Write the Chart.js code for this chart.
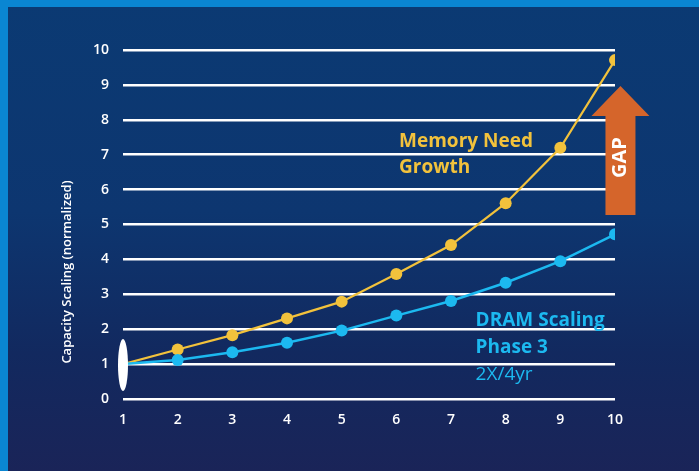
<!DOCTYPE html>
<html>
<head>
<meta charset="utf-8">
<script src="https://cdn.jsdelivr.net/npm/chart.js@4.4.0/dist/chart.umd.min.js"></script>
<style>
  html, body { margin: 0; padding: 0; overflow: hidden; background: #0d3269; }
  #frame {
    position: fixed; left: 0; top: 0; right: 0; bottom: 0;
    background: linear-gradient(180deg, #0b3a73 0%, #0d3670 45%, #12295f 75%, #1a2458 100%);
  }
  #topbar { position: fixed; left: 0; top: 0; right: 0; height: 7px; background: #0a86d2; }
  #leftbar { position: fixed; left: 0; top: 0; bottom: 0; width: 8px; background: #0a86d2; }
  #wrap { position: fixed; left: 0; top: 0; width: 699px; height: 471px; }
</style>
</head>
<body>
<div id="frame"></div>
<div id="topbar"></div>
<div id="leftbar"></div>
<div id="wrap"><canvas id="chart" width="699" height="471"></canvas></div>
<script>
// years (normalized)
const years = [1, 2, 3, 4, 5, 6, 7, 8, 9, 10];
// capacity scaling
const memoryNeed = [1, 1.42, 1.83, 2.31, 2.79, 3.58, 4.41, 5.61, 7.20, 9.71];
const dramScaling = [1, 1.12, 1.34, 1.61, 1.96, 2.39, 2.81, 3.33, 3.95, 4.72];
const yTicks = [0, 1, 2, 3, 4, 5, 6, 7, 8, 9, 10];

const YELLOW = '#f2c23c';
const BLUE = '#1cb9f0';
const ORANGE = '#d5652b';
const FONT = '"Open Sans", "DejaVu Sans", sans-serif';

const extras = {
  id: 'extras',
  afterDatasetsDraw(chart) {
    const { ctx } = chart;
    const x = chart.scales.x;
    const y = chart.scales.y;

    // white oval over the starting point
    ctx.save();
    ctx.fillStyle = '#ffffff';
    ctx.beginPath();
    ctx.ellipse(x.getPixelForValue(1), y.getPixelForValue(1) + 1, 5, 26, 0, 0, Math.PI * 2);
    ctx.fill();

    // GAP arrow
    const cx = x.getPixelForValue(10.1);
    const tip = y.getPixelForValue(8.97);
    const headBase = y.getPixelForValue(8.11);
    const bottom = y.getPixelForValue(5.27);
    ctx.fillStyle = ORANGE;
    ctx.beginPath();
    ctx.moveTo(cx, tip);
    ctx.lineTo(cx + 29, headBase);
    ctx.lineTo(cx + 15, headBase);
    ctx.lineTo(cx + 15, bottom);
    ctx.lineTo(cx - 15, bottom);
    ctx.lineTo(cx - 15, headBase);
    ctx.lineTo(cx - 29, headBase);
    ctx.closePath();
    ctx.fill();

    ctx.translate(cx, (headBase + bottom) / 2 - 8);
    ctx.rotate(-Math.PI / 2);
    ctx.fillStyle = '#ffffff';
    ctx.font = 'bold 20px ' + FONT;
    ctx.textAlign = 'center';
    ctx.textBaseline = 'middle';
    ctx.fillText('GAP', 0, 0);
    ctx.restore();

    // series labels
    ctx.save();
    ctx.textAlign = 'left';
    ctx.textBaseline = 'alphabetic';
    ctx.fillStyle = YELLOW;
    ctx.font = 'bold 19px ' + FONT;
    ctx.fillText('Memory Need', x.getPixelForValue(6.05), y.getPixelForValue(7.22));
    ctx.fillText('Growth', x.getPixelForValue(6.05), y.getPixelForValue(6.48));
    ctx.fillStyle = BLUE;
    ctx.fillText('DRAM Scaling', x.getPixelForValue(7.45), y.getPixelForValue(2.09));
    ctx.fillText('Phase 3', x.getPixelForValue(7.45), y.getPixelForValue(1.32));
    ctx.font = '19px ' + FONT;
    ctx.fillText('2X/4yr', x.getPixelForValue(7.45), y.getPixelForValue(0.54));

    // y axis title
    ctx.translate(67, 272);
    ctx.rotate(-Math.PI / 2);
    ctx.fillStyle = '#ffffff';
    ctx.font = '600 13px ' + FONT;
    ctx.textAlign = 'center';
    ctx.textBaseline = 'middle';
    ctx.fillText('Capacity Scaling (normalized)', 0, 0);
    ctx.restore();
  }
};

const pointR = (c) => (c.dataIndex === 0 ? 0 : 6);

new Chart(document.getElementById('chart'), {
  type: 'line',
  data: {
    labels: years,
    datasets: [
      {
        label: 'DRAM Scaling',
        data: dramScaling,
        borderColor: BLUE,
        backgroundColor: BLUE,
        pointBackgroundColor: BLUE,
        pointBorderWidth: 0,
        borderWidth: 2.5,
        pointRadius: pointR,
        tension: 0,
        fill: false
      },
      {
        label: 'Memory Need Growth',
        data: memoryNeed,
        borderColor: YELLOW,
        backgroundColor: YELLOW,
        pointBackgroundColor: YELLOW,
        pointBorderWidth: 0,
        borderWidth: 2.2,
        pointRadius: pointR,
        tension: 0,
        fill: false
      }
    ]
  },
  options: {
    responsive: false,
    animation: false,
    layout: { padding: { left: 0, right: 84, top: 50, bottom: 0 } },
    plugins: {
      legend: { display: false },
      tooltip: { enabled: false }
    },
    scales: {
      x: {
        type: 'linear',
        min: 1,
        max: 10,
        afterBuildTicks(scale) { scale.ticks = years.map(v => ({ value: v })); },
        grid: { display: false, drawTicks: false },
        border: { display: false },
        ticks: { color: '#ffffff', font: { family: FONT, size: 14, weight: '600' }, padding: 13, maxRotation: 0 },
        afterFit(scale) { scale.height = 72; }
      },
      y: {
        min: 0,
        max: 10,
        afterBuildTicks(scale) { scale.ticks = yTicks.map(v => ({ value: v })); },
        grid: { color: '#ffffff', lineWidth: 2.5, drawTicks: false },
        border: { display: false },
        ticks: { color: '#ffffff', font: { family: FONT, size: 14, weight: '600' }, padding: 14 },
        afterFit(scale) { scale.width = 123; }
      }
    }
  },
  plugins: [extras]
});
</script>
</body>
</html>
